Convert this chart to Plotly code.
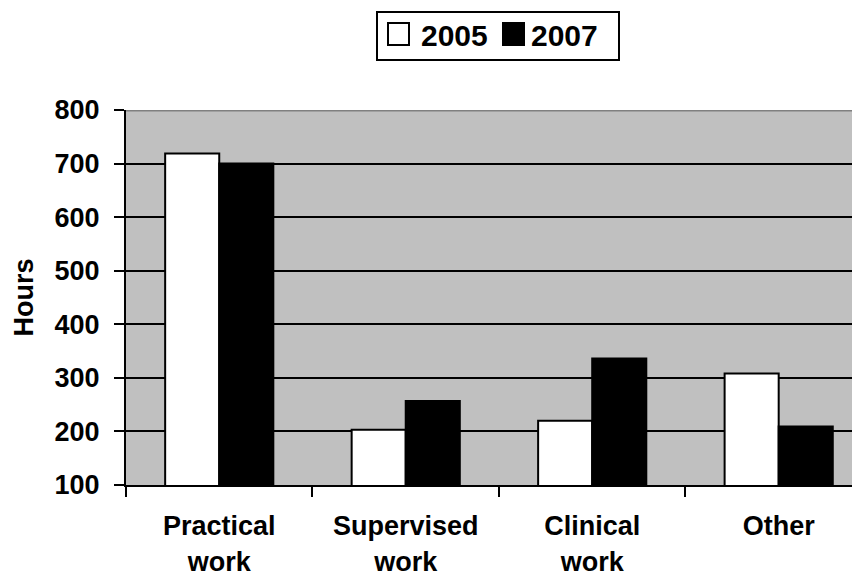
import plotly.graph_objects as go

categories = ["Practical<br>work", "Supervised<br>work", "Clinical<br>work", "Other"]
values_2005 = [719, 203, 220, 308]
values_2007 = [700, 257, 336, 209]
series_names = ["2005", "2007"]
y_ticks = [100, 200, 300, 400, 500, 600, 700, 800]

FONT = "Liberation Sans, Arial, sans-serif"

# the page body has an 8px margin, so the figure is shifted by 8px
OFF = 8
W, H = 860 - OFF, 579 - OFF
# plot-area geometry in reference pixels
L, R, T, B = 126, 860, 110, 485


def px(xp):
    return (xp - L) / (R - L)


def py(yp):
    return (B - yp) / (B - T)


fig = go.Figure()
fig.add_trace(go.Bar(x=categories, y=values_2005, name=series_names[0],
                     marker=dict(color="white", line=dict(color="black", width=2)),
                     showlegend=False))
fig.add_trace(go.Bar(x=categories, y=values_2007, name=series_names[1],
                     marker=dict(color="black", line=dict(color="black", width=2)),
                     showlegend=False))

# top border of plot area
fig.add_shape(type="line", xref="paper", yref="y", x0=0, x1=1, y0=800, y1=800,
              line=dict(color="#808080", width=3))

# manual legend
fig.add_shape(type="rect", xref="paper", yref="paper", x0=px(377), x1=px(619),
              y0=py(60), y1=py(12), line=dict(color="black", width=2), fillcolor="white")
fig.add_shape(type="rect", xref="paper", yref="paper", x0=px(388), x1=px(409),
              y0=py(45), y1=py(23), line=dict(color="black", width=2), fillcolor="white")
fig.add_shape(type="rect", xref="paper", yref="paper", x0=px(503), x1=px(524),
              y0=py(45), y1=py(23), line=dict(color="black", width=2), fillcolor="black")
for name, xl in zip(series_names, [419, 529]):
    fig.add_annotation(xref="paper", yref="paper", x=px(xl), y=py(35), text=name,
                       showarrow=False, xanchor="left", yanchor="middle",
                       font=dict(family=FONT, size=30, color="black", weight="bold"))

fig.add_annotation(xref="paper", yref="paper", x=px(23), y=0.5, text="Hours",
                   textangle=-90, showarrow=False, xanchor="center", yanchor="middle",
                   font=dict(family=FONT, size=27, color="black", weight="bold"))

fig.update_layout(
    width=W, height=H,
    margin=dict(l=L - OFF, r=860 - R, t=T - OFF, b=579 - B),
    paper_bgcolor="white", plot_bgcolor="#C0C0C0",
    barmode="group", bargap=0.42, bargroupgap=0,
    showlegend=False,
    font=dict(family=FONT, size=27, color="black"),
    xaxis=dict(type="category", range=[-0.5, 3.436], showline=True, linecolor="black",
               linewidth=2, ticks="outside", tickson="boundaries", ticklen=10,
               tickwidth=2, tickcolor="black", showgrid=False, automargin=False,
               ticklabelstandoff=16,
               tickfont=dict(family=FONT, size=27, color="black", weight="bold")),
    yaxis=dict(range=[100, 800], tickvals=y_ticks, showline=True, linecolor="black",
               linewidth=2, ticks="outside", ticklen=10, tickwidth=2, tickcolor="black",
               showgrid=True, gridcolor="black", gridwidth=2, zeroline=False,
               ticklabelstandoff=9, automargin=False,
               tickfont=dict(family=FONT, size=27, color="black", weight="bold")),
)

fig.write_html("out.html")
